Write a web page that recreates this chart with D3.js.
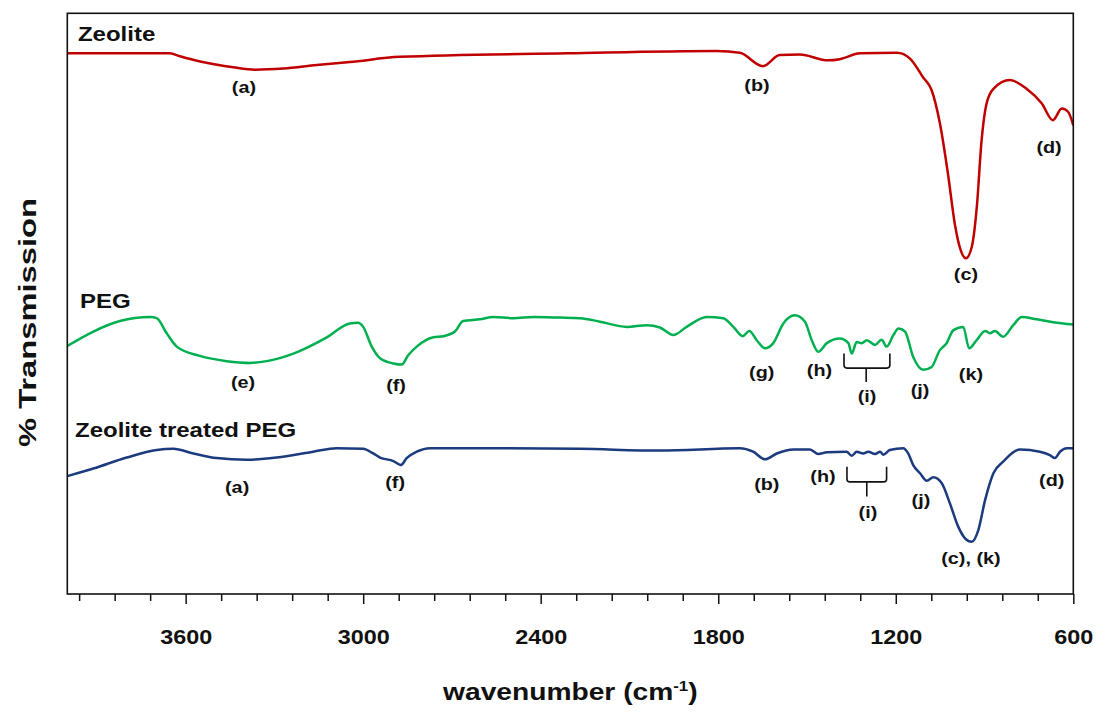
<!DOCTYPE html>
<html>
<head>
<meta charset="utf-8">
<script src="https://cdn.jsdelivr.net/npm/d3@7"></script>
<style>
  body { margin: 0; background: #fff; }
  text { font-family: "Liberation Sans", Arial, sans-serif; font-weight: bold; fill: #111; }
</style>
</head>
<body>
<svg id="chart" width="1104" height="713"></svg>
<script>
// FTIR spectra: [wavenumber (cm-1), % transmission (offset, arbitrary scale)]
const zeolite = [
  [4000,93.1],[3653,93.1],[3619,92.6],[3551,91.7],[3439,90.7],[3366,90.3],[3270,90.5],
  [3157,91.1],[3045,91.6],[2876,92.5],[2311,93.1],[1804,93.5],[1727,93.2],[1649,90.9],
  [1592,92.8],[1524,92.9],[1429,91.9],[1389,92.1],[1321,93.1],[1196,93.2],[1152,92.2],
  [1108,89.0],[1079,86.8],[1051,81.1],[1024,72.5],[1000,63.6],[983,59.6],[963,57.8],
  [943,59.8],[926,66.7],[910,78.1],[893,84.5],[870,87.0],[814,88.5],[758,87.0],
  [707,84.5],[669,81.6],[639,83.6],[617,83.0],[600,80.7]
];

const peg = [
  [4000,42.7],[3912,45.2],[3822,47.0],[3720,47.7],[3698,47.5],[3664,44.9],[3630,42.6],
  [3552,41.0],[3461,40.1],[3383,39.8],[3326,40.1],[3236,41.4],[3123,44.2],[3045,46.6],
  [3017,46.7],[3000,46.0],[2971,42.6],[2943,40.6],[2898,39.7],[2870,39.5],[2848,41.1],
  [2819,42.6],[2763,44.2],[2729,44.4],[2690,45.2],[2662,47.0],[2605,47.3],[2560,47.7],
  [2493,47.5],[2425,47.7],[2335,47.6],[2267,47.5],[2200,46.9],[2109,46.0],[2042,46.3],
  [1997,45.9],[1952,44.6],[1907,46.0],[1839,47.7],[1783,47.5],[1749,46.0],[1717,44.4],
  [1695,45.3],[1670,43.7],[1642,42.3],[1614,43.2],[1580,46.6],[1541,48.0],[1507,46.9],
  [1484,43.7],[1462,41.7],[1433,43.2],[1389,44.0],[1360,43.2],[1349,41.4],[1332,43.4],
  [1315,43.2],[1298,43.7],[1270,42.9],[1248,43.8],[1231,42.6],[1208,44.6],[1191,45.7],
  [1169,45.2],[1141,40.8],[1107,38.6],[1079,39.1],[1051,42.0],[1028,43.2],[1006,45.4],
  [972,46.0],[952,42.3],[927,43.7],[898,45.3],[882,44.9],[865,45.3],[837,44.3],
  [803,46.3],[774,47.7],[724,47.3],[668,46.8],[600,46.4]
];

const treatedPeg = [
  [4000,20.3],[3912,21.6],[3799,23.5],[3698,24.8],[3642,25.0],[3574,24.2],[3495,23.4],
  [3394,23.1],[3292,23.5],[3169,24.5],[3090,25.1],[3000,25.0],[2966,24.2],[2943,23.5],
  [2898,22.9],[2873,22.2],[2853,23.4],[2819,24.5],[2774,25.1],[2560,25.1],[2267,25.0],
  [1997,24.7],[1727,25.1],[1682,24.5],[1642,23.2],[1602,24.2],[1546,24.9],[1490,24.9],
  [1462,24.1],[1433,24.4],[1366,24.5],[1349,23.8],[1332,24.5],[1310,24.2],[1293,24.5],
  [1270,24.1],[1253,24.5],[1242,24.0],[1220,24.8],[1175,25.1],[1158,24.2],[1141,22.2],
  [1118,20.8],[1095,19.5],[1073,20.1],[1045,19.1],[1017,15.6],[989,11.6],[966,9.6],
  [943,9.0],[921,11.0],[898,16.2],[870,20.8],[837,22.8],[780,24.9],[713,24.5],
  [679,23.9],[662,23.4],[645,24.5],[622,25.1],[600,25.1]
];

// Axis ticks
const majorTicks = [3600, 3000, 2400, 1800, 1200, 600];
const minorTicks = d3.range(600, 3961, 120).filter(v => (v - 600) % 600 !== 0);

// Spectrum titles: [wavenumber, transmission, text]
const seriesNames = [
  [3964, 95.2, "Zeolite"],
  [3957, 49.2, "PEG"],
  [3974, 27.1, "Zeolite treated PEG"]
];

// Band labels: [wavenumber, transmission (baseline), text]
const bandLabels = [
  [3403, 86.2, "(a)"], [1669, 86.7, "(b)"], [963, 54.0, "(c)"], [682, 75.9, "(d)"],
  [3406, 35.5, "(e)"], [2889, 34.9, "(f)"], [1653, 37.2, "(g)"], [1458, 37.5, "(h)"],
  [1297, 33.1, "(i)"], [1118, 34.1, "(j)"], [946, 36.8, "(k)"],
  [3426, 17.4, "(a)"], [2892, 18.2, "(f)"], [1636, 17.9, "(b)"], [1446, 19.3, "(h)"],
  [1294, 13.1, "(i)"], [1115, 15.2, "(j)"], [946, 5.1, "(c), (k)"], [673, 18.6, "(d)"]
];

// Brackets grouping the (i) bands: [left wn, right wn, centre wn, top, bar, stem end]
const brackets = [
  [1375, 1220, 1300, 41.4, 38.9, 36.5],
  [1365, 1231, 1298, 21.9, 19.3, 16.8]
];

const margin = { top: 13.3, right: 30.7, bottom: 119, left: 67.3 };
const W = 1104, H = 713;
const width = W - margin.left - margin.right;
const height = H - margin.top - margin.bottom;

const svg = d3.select("#chart");
const g = svg.append("g").attr("transform", `translate(${margin.left},${margin.top})`);

const x = d3.scaleLinear().domain([4000, 600]).range([0, width]);
const y = d3.scaleLinear().domain([0, 100]).range([height, 0]);

// Clip to plot area
svg.append("defs").append("clipPath").attr("id", "plotClip")
  .append("rect").attr("width", width).attr("height", height);

// Minor and major ticks on the bottom axis
const minorAxis = d3.axisBottom(x).tickValues(minorTicks).tickSize(7).tickFormat("");
g.append("g").attr("transform", `translate(0,${height})`).call(minorAxis)
  .call(a => a.select(".domain").remove())
  .call(a => a.selectAll("line").attr("stroke", "#111").attr("stroke-width", 1.5));

const majorAxis = d3.axisBottom(x).tickValues(majorTicks).tickSize(10).tickPadding(26)
  .tickFormat(d3.format("d"));
g.append("g").attr("transform", `translate(0,${height})`).call(majorAxis)
  .call(a => a.select(".domain").remove())
  .call(a => a.selectAll("line").attr("stroke", "#111").attr("stroke-width", 1.5))
  .call(a => a.selectAll("text")
    .attr("fill", "#111")
    .style("font-size", "19.5px")
    .style("font-family", '"Liberation Sans", Arial, sans-serif')
    .style("font-weight", "bold")
    .attr("transform", "scale(1.2,1)"));

// Spectra
const line = d3.line().x(d => x(d[0])).y(d => y(d[1])).curve(d3.curveMonotoneX);
const spectra = [
  { data: zeolite, color: "#c00000" },
  { data: peg, color: "#00b050" },
  { data: treatedPeg, color: "#1c3a7e" }
];
g.append("g").attr("clip-path", "url(#plotClip)")
  .selectAll("path").data(spectra).join("path")
  .attr("d", d => line(d.data))
  .attr("fill", "none")
  .attr("stroke", d => d.color)
  .attr("stroke-width", 2.5)
  .attr("stroke-linejoin", "round");

// Frame
g.append("rect").attr("width", width).attr("height", height)
  .attr("fill", "none").attr("stroke", "#111").attr("stroke-width", 1.6);

// Spectrum titles
g.selectAll("text.series").data(seriesNames).join("text")
  .attr("class", "series")
  .attr("transform", d => `translate(${x(d[0])},${y(d[1])}) scale(1.2,1)`)
  .style("font-size", "20px")
  .text(d => d[2]);

// Band labels
g.selectAll("text.band").data(bandLabels).join("text")
  .attr("class", "band")
  .attr("transform", d => `translate(${x(d[0])},${y(d[1])}) scale(1.2,1)`)
  .attr("text-anchor", "middle")
  .style("font-size", "16.5px")
  .text(d => d[2]);

// Brackets
g.selectAll("path.bracket").data(brackets).join("path")
  .attr("class", "bracket")
  .attr("d", d => {
    const xl = x(d[0]), xr = x(d[1]), xc = x(d[2]);
    const yt = y(d[3]), yb = y(d[4]), ys = y(d[5]);
    return `M${xl},${yt}V${yb - 3}Q${xl},${yb} ${xl + 3},${yb}H${xr - 3}Q${xr},${yb} ${xr},${yb - 3}V${yt}` +
           `M${xc},${yb}V${ys}`;
  })
  .attr("fill", "none").attr("stroke", "#111").attr("stroke-width", 1.6);

// Axis titles
const xt = svg.append("text")
  .attr("transform", `translate(${margin.left + width / 2},700) scale(1.2,1)`)
  .attr("text-anchor", "middle")
  .style("font-size", "23.5px");
xt.append("tspan").text("wavenumber (cm");
xt.append("tspan").attr("dy", -9).style("font-size", "14px").text("-1");
xt.append("tspan").attr("dy", 9).text(")");

svg.append("text")
  .attr("transform", "translate(36,322.5) rotate(-90)")
  .attr("text-anchor", "middle")
  .attr("textLength", 249)
  .attr("lengthAdjust", "spacingAndGlyphs")
  .style("font-size", "24px")
  .text("% Transmission");
</script>
</body>
</html>
